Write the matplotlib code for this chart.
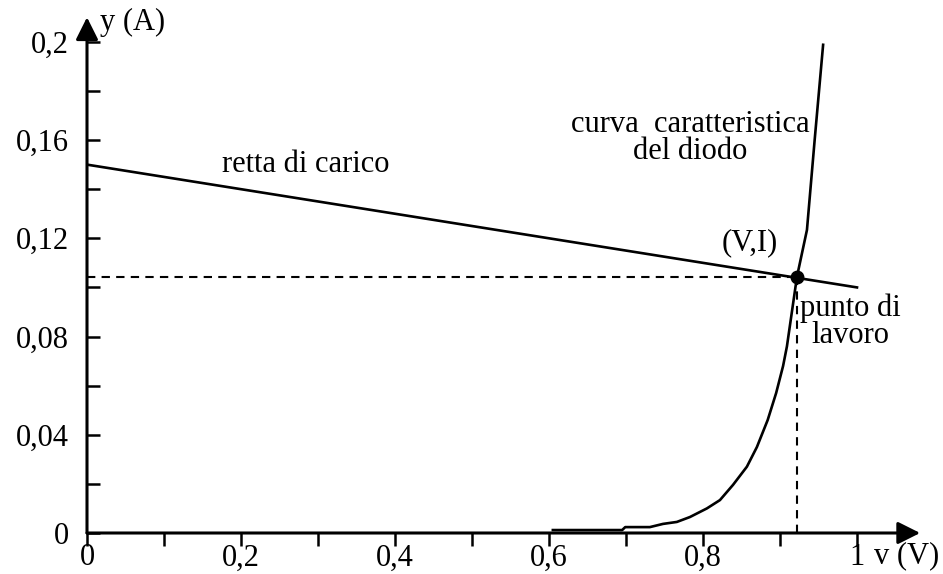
import matplotlib
matplotlib.use("Agg")
import matplotlib.pyplot as plt

plt.rcParams["font.family"] = ["Liberation Serif", "DejaVu Serif"]

# load line (retta di carico)
v_load = [0.0, 1.0]
i_load = [0.150, 0.100]

# diode characteristic
v_diode = [0.605, 0.695, 0.699, 0.731, 0.748, 0.766, 0.783, 0.805, 0.822, 0.839,
           0.857, 0.870, 0.884, 0.895, 0.904, 0.909, 0.922, 0.935, 0.945, 0.956]
i_diode = [0.0012, 0.0012, 0.0024, 0.0024, 0.0037, 0.0045, 0.0065, 0.0100, 0.0134, 0.0196,
           0.0270, 0.0350, 0.0460, 0.0570, 0.0680, 0.0760, 0.1043, 0.1234, 0.1600, 0.1988]

# operating point
V_op, I_op = 0.922, 0.1043

x_ticks = [0, 0.1, 0.2, 0.3, 0.4, 0.5, 0.6, 0.7, 0.8, 0.9, 1.0]
x_labels = ["0", "", "0,2", "", "0,4", "", "0,6", "", "0,8", "", "1"]
y_ticks = [0, 0.02, 0.04, 0.06, 0.08, 0.10, 0.12, 0.14, 0.16, 0.18, 0.20]
y_labels = ["0", "", "0,04", "", "0,08", "", "0,12", "", "0,16", "", "0,2"]

FS = 22
fig = plt.figure(figsize=(9.43, 5.74), dpi=100)
ax = fig.add_axes([87 / 943, 41 / 574, 847 / 943, 528 / 574])
ax.set_xlim(0, 1.1)
ax.set_ylim(0, 0.215)
for s in ax.spines.values():
    s.set_visible(False)

# axes with arrows
arrow = dict(arrowstyle="-|>", lw=2.2, color="k", mutation_scale=34,
             shrinkA=0, shrinkB=0)
ax.annotate("", xy=(1.082, 0), xytext=(0, 0), arrowprops=arrow, annotation_clip=False)
ax.annotate("", xy=(0, 0.21), xytext=(0, 0), arrowprops=arrow, annotation_clip=False)

ax.set_xticks(x_ticks)
ax.set_xticklabels(x_labels)
ax.set_yticks(y_ticks)
ax.set_yticklabels(y_labels)
ax.tick_params(axis="x", direction="out", length=9.5, width=1.8, pad=-2, labelsize=FS)
ax.tick_params(axis="y", direction="in", length=9.5, width=1.8, pad=13, labelsize=FS)

# curves
ax.plot(v_load, i_load, color="k", lw=1.9)
ax.plot(v_diode, i_diode, color="k", lw=1.9)

# dashed guides to the operating point
ax.plot([0, V_op], [I_op, I_op], color="k", lw=1.5, ls=(0, (4, 3)))
ax.plot([V_op, V_op], [0, I_op], color="k", lw=1.5, ls=(0, (4, 3)))
ax.plot([V_op], [I_op], "o", color="k", ms=9)

# labels
ax.text(0.059, 0.208, "y (A)", fontsize=FS, ha="center", va="center")
ax.text(1.064, -0.0092, "v (V)", fontsize=FS, ha="center", va="center", clip_on=False)
ax.text(0.284, 0.150, "retta di carico", fontsize=FS, ha="center", va="center")
ax.text(0.784, 0.1665, "curva  caratteristica", fontsize=FS, ha="center", va="center")
ax.text(0.784, 0.1555, "del diodo", fontsize=FS, ha="center", va="center")
ax.text(0.861, 0.118, "(V,I)", fontsize=FS, ha="center", va="center")
ax.text(0.991, 0.0917, "punto di", fontsize=FS, ha="center", va="center")
ax.text(0.991, 0.0806, "lavoro", fontsize=FS, ha="center", va="center")

fig.savefig("out.png", dpi=100)
